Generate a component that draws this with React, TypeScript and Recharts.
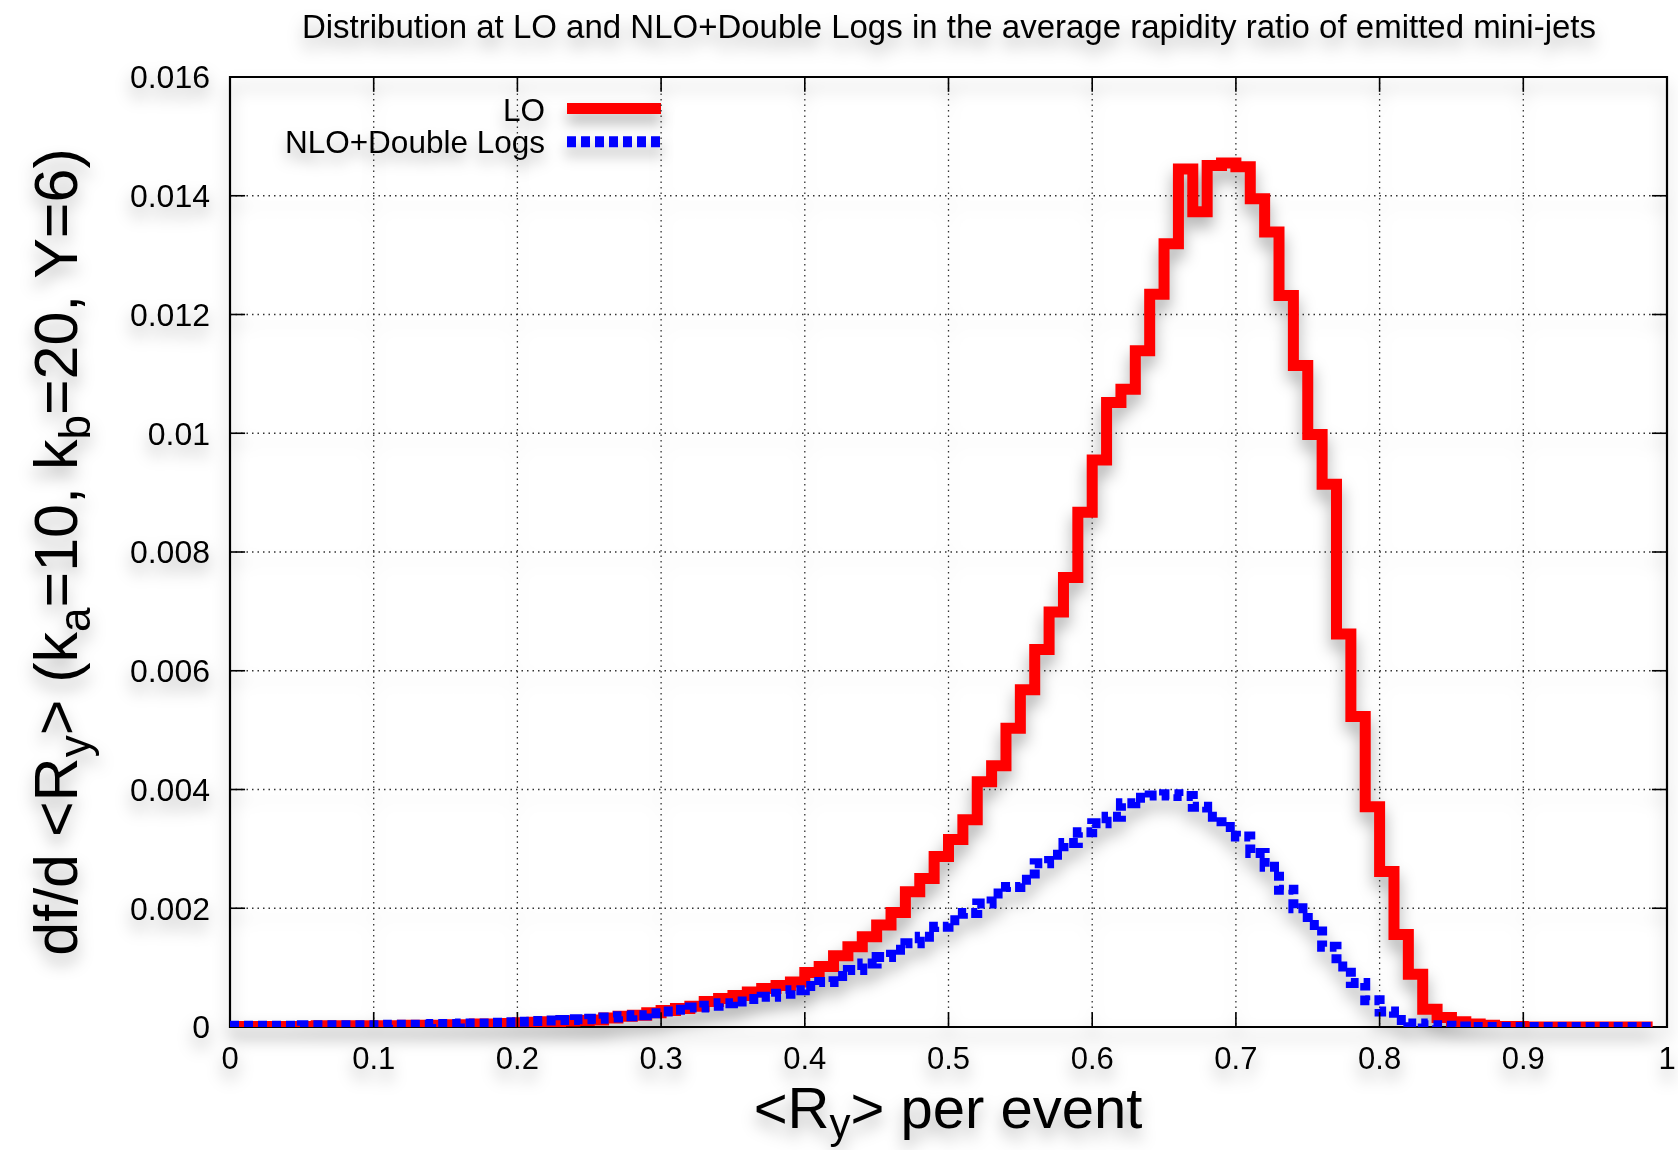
import React from 'react';
import {
  LineChart,
  Line,
  XAxis,
  YAxis,
  CartesianGrid,
  ReferenceLine,
  ReferenceArea,
  Legend,
} from 'recharts';

// ---------- data ----------
const binStart = [
  0, 0.01, 0.02, 0.03, 0.04, 0.05, 0.06, 0.07, 0.08, 0.09,
  0.1, 0.11, 0.12, 0.13, 0.14, 0.15, 0.16, 0.17, 0.18, 0.19,
  0.2, 0.21, 0.22, 0.23, 0.24, 0.25, 0.26, 0.27, 0.28, 0.29,
  0.3, 0.31, 0.32, 0.33, 0.34, 0.35, 0.36, 0.37, 0.38, 0.39,
  0.4, 0.41, 0.42, 0.43, 0.44, 0.45, 0.46, 0.47, 0.48, 0.49,
  0.5, 0.51, 0.52, 0.53, 0.54, 0.55, 0.56, 0.57, 0.58, 0.59,
  0.6, 0.61, 0.62, 0.63, 0.64, 0.65, 0.66, 0.67, 0.68, 0.69,
  0.7, 0.71, 0.72, 0.73, 0.74, 0.75, 0.76, 0.77, 0.78, 0.79,
  0.8, 0.81, 0.82, 0.83, 0.84, 0.85, 0.86, 0.87, 0.88, 0.89,
  0.9, 0.91, 0.92, 0.93, 0.94, 0.95, 0.96, 0.97, 0.98, 0.99,
];

const loValues = [
  0.00001, 0.00001, 0.00001, 0.00001, 0.00001, 0.00001, 0.00002, 0.00002, 0.00002, 0.00002,
  0.00002, 0.00002, 0.00003, 0.00003, 0.00003, 0.00004, 0.00004, 0.00005, 0.00005, 0.00006,
  0.00007, 0.00008, 0.00009, 0.0001, 0.00011, 0.00012, 0.00015, 0.00018, 0.0002, 0.00024,
  0.00028, 0.00031, 0.00035, 0.00043, 0.00048, 0.00053, 0.00059, 0.00065, 0.0007, 0.00076,
  0.00092, 0.00102, 0.0012, 0.00135, 0.00152, 0.00172, 0.00193, 0.00228, 0.0025, 0.00287,
  0.00316, 0.00349, 0.00413, 0.0044, 0.00503, 0.00568, 0.00636, 0.00699, 0.00757, 0.00867,
  0.00955, 0.01052, 0.01074, 0.01139, 0.01234, 0.01319, 0.01445, 0.01373, 0.01451, 0.01455,
  0.01449, 0.01395, 0.01339, 0.01232, 0.01114, 0.00998, 0.00914, 0.00662, 0.00523, 0.00371,
  0.00262, 0.00156, 0.00089, 0.0003, 0.00016, 0.00009, 0.00005, 0.00003, 0.00001, 0.00001,
  0, 0, 0, 0, 0, 0, 0, 0, 0, 0,
];

const nloValues = [
  0.00002, 0.00002, 0.00002, 0.00002, 0.00002, 0.00003, 0.00003, 0.00003, 0.00003, 0.00003,
  0.00003, 0.00004, 0.00004, 0.00004, 0.00005, 0.00005, 0.00006, 0.00006, 0.00007, 0.00008,
  0.00009, 0.0001, 0.00011, 0.00012, 0.00013, 0.00014, 0.00016, 0.00018, 0.0002, 0.00023,
  0.00026, 0.00029, 0.00033, 0.00036, 0.0004, 0.00043, 0.00047, 0.00051, 0.00056, 0.00062,
  0.00069, 0.00076, 0.00086, 0.00096, 0.00107, 0.00118, 0.0013, 0.00141, 0.00152, 0.00169,
  0.0018, 0.00192, 0.00208, 0.00225, 0.00236, 0.00248, 0.00276, 0.0029, 0.0031, 0.00328,
  0.00343, 0.00354, 0.00377, 0.00386, 0.0039, 0.00392, 0.00389, 0.00371, 0.00354, 0.00337,
  0.00321, 0.00293, 0.0027, 0.00231, 0.002, 0.00172, 0.00135, 0.00102, 0.00074, 0.00045,
  0.00026, 0.00012, 0.00006, 0.00003, 0.00002, 0.00001, 0, 0, 0, 0,
  0, 0, 0, 0, 0, 0, 0, 0, 0, 0,
];

const seriesNames = ['LO', 'NLO+Double Logs'];
const seriesColors = ['#ff0000', '#0000ff'];

const xTicks = [0, 0.1, 0.2, 0.3, 0.4, 0.5, 0.6, 0.7, 0.8, 0.9, 1];
const xTickLabels = ['0', '0.1', '0.2', '0.3', '0.4', '0.5', '0.6', '0.7', '0.8', '0.9', '1'];
const yTicks = [0, 0.002, 0.004, 0.006, 0.008, 0.01, 0.012, 0.014, 0.016];
const yTickLabels = ['0', '0.002', '0.004', '0.006', '0.008', '0.01', '0.012', '0.014', '0.016'];

const titleText =
  'Distribution at LO and NLO+Double Logs in the average rapidity ratio of emitted mini-jets';

const data = binStart.map((x, i) => ({ x, lo: loValues[i], nlo: nloValues[i] }));

// ---------- layout ----------
const W = 1678;
const H = 1150;
const FONT = '"Liberation Sans", Arial, Helvetica, sans-serif';
const X_MIN = 0;
const X_MAX = 1;
const Y_MIN = 0;
const Y_MAX = 0.016;
const X_TICK_LEN = 0.00025; // inward tick length (y units)
const Y_TICK_LEN = 0.0105; // inward tick length (x units)

const LegendBox = () => (
  <svg width={436} height={68} style={{ display: 'block', overflow: 'visible' }}>
    <defs>
      <filter id="lgsh" x="-20%" y="-60%" width="140%" height="220%">
        <feDropShadow dx="0" dy="9" stdDeviation="7" floodColor="#000" floodOpacity="0.3" />
      </filter>
    </defs>
    <rect x={0} y={0} width={436} height={68} fill="#ffffff" />
    <g filter="url(#lgsh)" fontFamily={FONT} fontSize={31.5} fill="#000">
      <text x={313} y={16.5} dy="0.355em" textAnchor="end">
        {seriesNames[0]}
      </text>
      <line x1={335} x2={429} y1={15.5} y2={15.5} stroke={seriesColors[0]} strokeWidth={11} />
      <text x={313} y={49} dy="0.355em" textAnchor="end">
        {seriesNames[1]}
      </text>
      <line
        x1={335}
        x2={429}
        y1={48.7}
        y2={48.7}
        stroke={seriesColors[1]}
        strokeWidth={11}
        strokeDasharray="9 5"
      />
    </g>
  </svg>
);

export default function App() {
  return (
    <div
      style={{
        position: 'absolute',
        left: 0,
        top: 0,
        width: W,
        height: H,
        background: '#ffffff',
        overflow: 'hidden',
      }}
    >
      <style>{`.recharts-surface{filter: drop-shadow(0px 10px 8px rgba(0,0,0,0.33));}`}</style>
      <LineChart
        width={W}
        height={H}
        data={data}
        margin={{ top: 77, right: 11, bottom: 63, left: 130 }}
      >
        <CartesianGrid stroke="#333" strokeDasharray="1.5 4" strokeWidth={1.3} />
        <XAxis
          type="number"
          dataKey="x"
          domain={[X_MIN, X_MAX]}
          ticks={xTicks}
          tickFormatter={(v: number) => xTickLabels[xTicks.indexOf(v)] ?? String(v)}
          tick={{ fontSize: 31, fill: '#000', fontFamily: FONT }}
          tickLine={false}
          axisLine={false}
          tickSize={0}
          tickMargin={20}
          height={60}
          allowDataOverflow
          interval={0}
        />
        <YAxis
          type="number"
          domain={[Y_MIN, Y_MAX]}
          ticks={yTicks}
          tickFormatter={(v: number) => yTickLabels[yTicks.indexOf(v)] ?? String(v)}
          tick={{ fontSize: 32, fill: '#000', fontFamily: FONT }}
          tickLine={false}
          axisLine={false}
          tickSize={0}
          tickMargin={20}
          width={100}
          allowDataOverflow
          interval={0}
        />
        <Line
          type="stepAfter"
          dataKey="lo"
          name={seriesNames[0]}
          stroke={seriesColors[0]}
          strokeWidth={11}
          strokeLinejoin="miter"
          strokeLinecap="butt"
          dot={false}
          activeDot={false}
          isAnimationActive={false}
        />
        <Line
          type="stepAfter"
          dataKey="nlo"
          name={seriesNames[1]}
          stroke={seriesColors[1]}
          strokeWidth={10}
          strokeDasharray="9 5"
          strokeLinejoin="miter"
          strokeLinecap="butt"
          dot={false}
          activeDot={false}
          isAnimationActive={false}
        />
        {xTicks.slice(1, -1).map((t) => (
          <ReferenceLine
            key={'xb' + t}
            segment={[
              { x: t, y: Y_MIN },
              { x: t, y: Y_MIN + X_TICK_LEN },
            ]}
            stroke="#000"
            strokeWidth={1.6}
          />
        ))}
        {xTicks.slice(1, -1).map((t) => (
          <ReferenceLine
            key={'xt' + t}
            segment={[
              { x: t, y: Y_MAX },
              { x: t, y: Y_MAX - X_TICK_LEN },
            ]}
            stroke="#000"
            strokeWidth={1.6}
          />
        ))}
        {yTicks.slice(1, -1).map((t) => (
          <ReferenceLine
            key={'yl' + t}
            segment={[
              { x: X_MIN, y: t },
              { x: X_MIN + Y_TICK_LEN, y: t },
            ]}
            stroke="#000"
            strokeWidth={1.6}
          />
        ))}
        {yTicks.slice(1, -1).map((t) => (
          <ReferenceLine
            key={'yr' + t}
            segment={[
              { x: X_MAX, y: t },
              { x: X_MAX - Y_TICK_LEN, y: t },
            ]}
            stroke="#000"
            strokeWidth={1.6}
          />
        ))}
        <ReferenceArea
          x1={X_MIN}
          x2={X_MAX}
          y1={Y_MIN}
          y2={Y_MAX}
          fill="none"
          fillOpacity={0}
          stroke="#000"
          strokeWidth={2.2}
          ifOverflow="visible"
        />
        <Legend
          layout="horizontal"
          verticalAlign="middle"
          align="center"
          wrapperStyle={{ position: 'absolute', left: 232, top: 93, width: 436, height: 68 }}
          content={() => <LegendBox />}
        />
      </LineChart>
      <svg
        width={W}
        height={H}
        style={{ position: 'absolute', left: 0, top: 0, pointerEvents: 'none', overflow: 'visible' }}
      >
        <defs>
          <filter id="txsh" x="-20%" y="-60%" width="140%" height="220%">
            <feDropShadow dx="0" dy="10" stdDeviation="8" floodColor="#000" floodOpacity="0.3" />
          </filter>
        </defs>
        <g filter="url(#txsh)" fontFamily={FONT} fill="#000">
          <text x={949} y={38} textAnchor="middle" fontSize={33}>
            {titleText}
          </text>
          <text x={948} y={1128} textAnchor="middle" fontSize={58}>
            {'<R'}
            <tspan dy={10} fontSize={42}>
              y
            </tspan>
            <tspan dy={-10}>{'> per event'}</tspan>
          </text>
          <text x={77} y={552} textAnchor="middle" fontSize={61} transform="rotate(-90 77 552)">
            {'df/d <R'}
            <tspan dy={13} fontSize={44}>
              y
            </tspan>
            <tspan dy={-13}>{'> (k'}</tspan>
            <tspan dy={13} fontSize={44}>
              a
            </tspan>
            <tspan dy={-13}>{'=10, k'}</tspan>
            <tspan dy={13} fontSize={44}>
              b
            </tspan>
            <tspan dy={-13}>{'=20, Y=6)'}</tspan>
          </text>
        </g>
      </svg>
    </div>
  );
}
